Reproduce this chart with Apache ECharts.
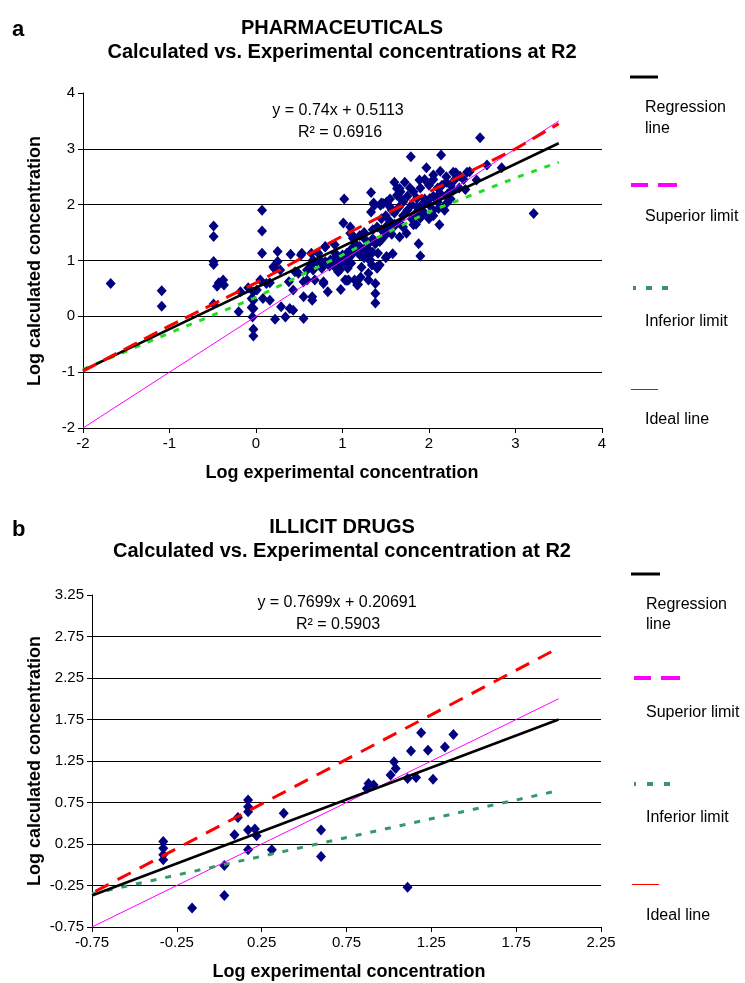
<!DOCTYPE html>
<html>
<head>
<meta charset="utf-8">
<script src="https://cdn.jsdelivr.net/npm/echarts@6/dist/echarts.min.js"></script>
<style>
html,body{margin:0;padding:0;background:#fff;}
#chart{width:745px;height:983px;}
</style>
</head>
<body>
<div id="chart"></div>
<script>
// ---------- Panel a: PHARMACEUTICALS ----------
const pharmaTicks = [-2, -1, 0, 1, 2, 3, 4];
const pharmaPoints = [
[-1.68,0.59],[-1.09,0.46],[-1.09,0.18],[-0.49,1.62],[-0.49,1.43],[-0.49,0.98],[-0.49,0.93],[-0.43,0.60],[-0.38,0.65],[-0.37,0.56],[-0.45,0.54],[-0.49,0.22],[-0.20,0.08],
[0.07,1.90],[0.07,1.53],[0.07,1.13],[-0.04,-0.01],[-0.03,-0.23],[-0.03,-0.35],[-0.05,0.16],[-0.05,0.32],[-0.03,0.44],[0.01,0.47],[0.05,0.65],[0.08,0.32],[0.16,0.29],[0.22,-0.05],[0.20,0.89],[0.25,1.16],[0.25,0.98],[0.29,0.17],[0.34,-0.01],[0.39,0.14],[0.43,0.11],[0.40,1.11],[0.38,0.62],[0.43,0.47],[0.52,1.10],[0.55,-0.04],[0.55,0.35],[0.49,0.77],[0.59,0.83],[0.64,0.92],[0.65,0.35],[0.65,0.29],[0.64,1.13],[0.72,1.13],[0.74,1.01],[0.76,0.86],[0.78,0.59],[0.80,1.24],[0.83,0.44],[0.95,0.80],[0.98,0.48],[1.01,1.67],[1.02,2.10],[1.03,0.65],[1.06,0.86],[0.95,1.07],[0.21,0.86],
[1.33,2.22],[1.36,2.03],[1.45,2.03],[1.33,1.87],[1.63,2.29],[1.63,2.17],[-0.03,0.29],[-0.03,0.14],[0.55,0.62],[1.07,0.65],[1.14,0.65],[1.17,0.56],[1.22,0.88],[1.30,0.77],[1.30,0.65],[1.38,0.59],[1.38,0.41],[1.38,0.24],[1.32,1.01],[1.34,0.92],[1.40,0.86],[1.50,1.05],[1.58,1.12],[1.49,1.47],[1.59,1.60],[1.09,1.49],[1.12,1.40],[0.80,0.98],[0.89,1.01],[0.97,0.95],[0.97,0.83],[1.09,1.07],[1.14,1.16],
[2.59,3.20],[1.79,2.86],[2.14,2.89],[1.97,2.66],[1.89,2.44],[2.05,2.53],[2.13,2.60],[2.20,2.50],[2.28,2.58],[2.36,2.51],[2.44,2.58],[2.67,2.71],[2.84,2.66],[3.21,1.84],[2.55,2.44],[2.42,2.27],[2.28,2.26],[2.22,2.20],[1.66,2.29],[1.67,2.23],[1.67,2.11],[1.51,2.05],[1.57,1.90],[1.82,2.23],[1.86,2.11],[1.86,1.96],[1.93,2.02],[2.01,2.11],[2.09,2.14],[2.13,2.20],[2.05,1.90],[2.11,1.93],[2.20,2.02],[2.18,1.90],[2.12,1.64],[1.88,1.30],[1.90,1.08],[1.51,1.07],[1.74,1.49],[1.66,1.67],[1.82,1.64],[1.90,1.76],[1.45,1.37],[2.31,2.57],[2.47,2.59],[1.09,1.60],[1.11,1.46],[1.50,1.46],[1.57,1.47],[1.66,1.42],[1.30,1.13],[1.41,1.13],[1.31,1.01],[1.40,0.89],[1.43,0.92],[1.38,1.30],[1.36,1.37],[1.05,1.13],[0.91,1.04],[0.86,1.01],[0.80,1.25],[0.91,1.28],[0.53,1.13],[1.37,1.99],[1.44,1.99],[1.47,2.02],[1.55,1.96],[1.05,0.64],[1.18,0.57],[1.21,0.70],[1.26,1.38],[1.34,1.37],[1.43,1.34],[0.89,0.95],[1.08,0.96],[0.66,0.83],[0.78,0.62],[0.66,1.01],[0.72,0.95],
[1.45,1.75],[1.50,1.80],[1.55,1.70],[1.60,1.85],[1.65,1.95],[1.70,1.80],[1.75,1.90],[1.80,2.00],[1.85,1.85],[1.90,1.95],[1.95,2.10],[2.00,2.00],[2.05,2.15],[2.10,2.30],[2.15,2.35],[2.20,2.40],[2.25,2.35],[2.30,2.45],[1.70,2.05],[1.75,2.15],[1.78,2.30],[1.72,2.40],[1.60,2.40],[1.55,2.10],[1.40,1.60],[1.35,1.55],[1.25,1.50],[1.20,1.45],[1.15,1.30],[1.25,1.20],[1.30,1.30],[1.45,1.55],[1.50,1.60],[1.55,1.55],[1.60,1.65],[1.70,1.60],[1.80,1.75],[1.85,1.65],[1.95,1.85],[2.00,1.75],[2.05,1.80],[2.10,2.05],[2.20,2.15],[2.25,2.10],[2.35,2.30],[2.40,2.45],[2.00,2.35],[1.90,2.30],[1.95,2.45],[2.05,2.45],
[0.90,0.90],[0.95,1.00],[1.00,1.10],[1.05,1.05],[1.00,0.95],[0.92,1.12],[1.10,1.20],[1.15,1.25],[0.85,0.90],[1.10,0.95],[1.20,1.10],[1.25,1.05],[1.30,1.20],[1.35,1.15],[1.20,1.25],
[0.12,0.59],[0.28,0.83],[0.45,0.80],[0.68,0.65],[0.59,0.65],[-0.18,0.44],[-0.09,0.51],[0.16,0.60]
];
const pharmaRegression = [[-2,-0.97],[3.5,3.10]];
const pharmaSuperior = [[-2,-0.98],[-1,-0.17],[0,0.60],[1,1.44],[2,2.23],[3,3.00],[3.5,3.45]];
const pharmaInferior = [[-2,-0.95],[-1,-0.30],[0,0.34],[1,1.10],[2,1.87],[3,2.48],[3.5,2.76]];
const pharmaIdeal = [[-2,-2],[3.5,3.5]];

// ---------- Panel b: ILLICIT DRUGS ----------
const illicitTicks = [-0.75, -0.25, 0.25, 0.75, 1.25, 1.75, 2.25, 2.75, 3.25];
const illicitPoints = [
[-0.33,0.28],[-0.33,0.20],[-0.33,0.12],[-0.33,0.06],[-0.16,-0.52],[0.03,-0.37],[0.03,-0.01],[0.09,0.36],[0.11,0.57],[0.17,0.78],[0.17,0.70],[0.17,0.64],[0.17,0.42],[0.17,0.18],[0.21,0.43],[0.22,0.35],[0.31,0.18],[0.38,0.62],[0.60,0.42],[0.60,0.10],
[1.11,-0.27],[0.87,0.92],[0.88,0.98],[0.91,0.96],[1.01,1.08],[1.04,1.16],[1.03,1.24],[1.11,1.04],[1.16,1.05],[1.26,1.03],[1.19,1.59],[1.38,1.57],[1.13,1.37],[1.23,1.38],[1.33,1.42]
];
const illicitRegression = [[-0.75,-0.37],[2.0,1.75]];
const illicitSuperior = [[-0.73,-0.32],[1.97,2.58]];
const illicitInferior = [[-0.75,-0.35],[1.97,0.88]];
const illicitIdeal = [[-0.75,-0.75],[2.0,2.0]];

const FONT = '"Liberation Sans", Arial, Helvetica, sans-serif';
const chart = echarts.init(document.getElementById('chart'), null, {renderer: 'canvas'});

function yAxisCfg(gi, min, max, interval, fmt) {
  return {
    type: 'value', gridIndex: gi, min: min, max: max, interval: interval,
    axisLine: {show: true, onZero: false, lineStyle: {color: '#000', width: 1}},
    axisTick: {show: true, length: 5, lineStyle: {color: '#000'}},
    axisLabel: {color: '#000', fontSize: 15, fontFamily: FONT, margin: 8, formatter: fmt},
    splitLine: {show: true, showMaxLine: false, showMinLine: false, lineStyle: {color: '#000', width: 1}}
  };
}
function xAxisCfg(gi, min, max, interval, fmt) {
  return {
    type: 'value', gridIndex: gi, min: min, max: max, interval: interval,
    axisLine: {show: true, onZero: false, lineStyle: {color: '#000', width: 1}},
    axisTick: {show: true, length: 5, lineStyle: {color: '#000'}},
    axisLabel: {color: '#000', fontSize: 15, fontFamily: FONT, margin: 8, formatter: fmt},
    splitLine: {show: false}
  };
}
const fmtInt = v => String(Math.round(v));
const fmt2 = v => (Math.round(v * 100) / 100).toFixed(2);

function lineSeries(xi, data, color, width, type, z) {
  return {type: 'line', xAxisIndex: xi, yAxisIndex: xi, data: data, symbol: 'none', silent: true,
          lineStyle: {color: color, width: width, type: type}, z: z, animation: false};
}
function scatterSeries(xi, data) {
  return {type: 'scatter', xAxisIndex: xi, yAxisIndex: xi, data: data, symbol: 'diamond',
          symbolSize: [10, 11], itemStyle: {color: '#000080', opacity: 1}, z: 2, animation: false};
}

function txt(x, y, text, font, align, rot) {
  const el = {type: 'text', x: x, y: y, silent: true,
    style: {text: text, font: font, fill: '#000', align: align || 'center', verticalAlign: 'middle'}};
  if (rot) el.rotation = rot;
  return el;
}
function seg(x1, y1, x2, y2, color, w) {
  return {type: 'line', silent: true, shape: {x1: x1, y1: y1, x2: x2, y2: y2},
          style: {stroke: color, lineWidth: w}};
}

const titleFont = 'bold 20px ' + FONT;
const axisNameFont = 'bold 18px ' + FONT;
const annFont = '16px ' + FONT;
const legFont = '16px ' + FONT;

const graphics = [
  txt(12, 30, 'a', 'bold 22px ' + FONT, 'left'),
  txt(342, 28, 'PHARMACEUTICALS', titleFont),
  txt(342, 52, 'Calculated vs. Experimental concentrations at R2', titleFont),
  txt(35, 261, 'Log calculated concentration', axisNameFont, 'center', Math.PI / 2),
  txt(342, 473, 'Log experimental concentration', axisNameFont),
  txt(338, 111, 'y = 0.74x + 0.5113', annFont),
  txt(340, 133, 'R\u00B2 = 0.6916', annFont),
  // legend a
  seg(630, 77, 658, 77, '#000', 3),
  txt(645, 108, 'Regression', legFont, 'left'),
  txt(645, 129, 'line', legFont, 'left'),
  seg(631, 185, 648, 185, '#ff00ff', 4),
  seg(658, 185, 677, 185, '#ff00ff', 4),
  txt(645, 217, 'Superior limit', legFont, 'left'),
  seg(633, 288, 636, 288, '#339966', 4),
  seg(646, 288, 652, 288, '#339966', 4),
  seg(662, 288, 668, 288, '#339966', 4),
  txt(645, 322, 'Inferior limit', legFont, 'left'),
  seg(631, 389.5, 658, 389.5, '#ff0000', 1),
  txt(645, 420, 'Ideal line', legFont, 'left'),

  txt(12, 530, 'b', 'bold 22px ' + FONT, 'left'),
  txt(342, 527, 'ILLICIT DRUGS', titleFont),
  txt(342, 551, 'Calculated vs. Experimental concentration at R2', titleFont),
  txt(35, 761, 'Log calculated concentration', axisNameFont, 'center', Math.PI / 2),
  txt(349, 972, 'Log experimental concentration', axisNameFont),
  txt(337, 603, 'y = 0.7699x + 0.20691', annFont),
  txt(338, 625, 'R\u00B2 = 0.5903', annFont),
  // legend b
  seg(631, 574, 660, 574, '#000', 3),
  txt(646, 605, 'Regression', legFont, 'left'),
  txt(646, 625, 'line', legFont, 'left'),
  seg(634, 678, 651, 678, '#ff00ff', 4),
  seg(661, 678, 680, 678, '#ff00ff', 4),
  txt(646, 713, 'Superior limit', legFont, 'left'),
  seg(634, 784, 636, 784, '#339966', 4),
  seg(647, 784, 653, 784, '#339966', 4),
  seg(664, 784, 670, 784, '#339966', 4),
  txt(646, 818, 'Inferior limit', legFont, 'left'),
  seg(632, 884.5, 659, 884.5, '#ff0000', 1),
  txt(646, 916, 'Ideal line', legFont, 'left')
];

const option = {
  animation: false,
  backgroundColor: '#fff',
  grid: [
    {left: 83, top: 93, width: 519, height: 335, containLabel: false},
    {left: 92, top: 595, width: 509, height: 332, containLabel: false}
  ],
  xAxis: [
    xAxisCfg(0, pharmaTicks[0], pharmaTicks[pharmaTicks.length - 1], 1, fmtInt),
    xAxisCfg(1, illicitTicks[0], illicitTicks[6], 0.5, fmt2)
  ],
  yAxis: [
    yAxisCfg(0, pharmaTicks[0], pharmaTicks[pharmaTicks.length - 1], 1, fmtInt),
    yAxisCfg(1, illicitTicks[0], illicitTicks[illicitTicks.length - 1], 0.5, fmt2)
  ],
  series: [
    scatterSeries(0, pharmaPoints),
    lineSeries(0, pharmaIdeal, '#ff00ff', 1, 'solid', 5),
    lineSeries(0, pharmaInferior, '#22dd22', 3, [6, 8], 6),
    lineSeries(0, pharmaRegression, '#000000', 2.5, 'solid', 7),
    lineSeries(0, pharmaSuperior, '#ff0000', 3, [15, 8], 8),
    scatterSeries(1, illicitPoints),
    lineSeries(1, illicitIdeal, '#ff00ff', 1, 'solid', 5),
    lineSeries(1, illicitInferior, '#339966', 3, [6, 9], 6),
    lineSeries(1, illicitRegression, '#000000', 2.5, 'solid', 7),
    lineSeries(1, illicitSuperior, '#ff0000', 3, [15, 10], 8)
  ],
  graphic: graphics
};
chart.setOption(option);
</script>
</body>
</html>
